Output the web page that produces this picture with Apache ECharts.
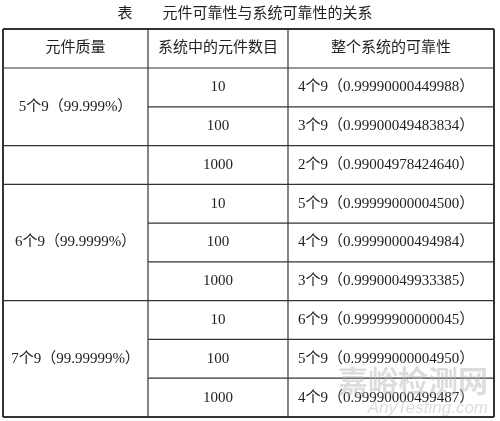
<!DOCTYPE html>
<html>
<head>
<meta charset="utf-8">
<script src="https://cdn.jsdelivr.net/npm/echarts@6/dist/echarts.min.js"></script>
</head>
<body style="margin:0">
<div id="main" style="width:500px;height:421px;"></div>
<script>
var title = '表　　元件可靠性与系统可靠性的关系';
var headers = ['元件质量', '系统中的元件数目', '整个系统的可靠性'];
// 第一列：文字与跨行数
var qualities = ['5个9（99.999%）', '', '6个9（99.9999%）', '7个9（99.99999%）'];
var qualitySpans = [2, 1, 3, 3];
var counts = ['10', '100', '1000', '10', '100', '1000', '10', '100', '1000'];
var reliab = [
    '4个9（0.99990000449988）', '3个9（0.99900049483834）', '2个9（0.99004978424640）',
    '5个9（0.99999000004500）', '4个9（0.99990000494984）', '3个9（0.99900049933385）',
    '6个9（0.99999900000045）', '5个9（0.99999000004950）', '4个9（0.99990000499487）'
];

var chart = echarts.init(document.getElementById('main'));
var L = 3, R = 494, T = 29, HB = 68, B = 417;
var colX = [L, 148, 288, R];
var rowH = (B - HB) / counts.length;
var font = '15px "Liberation Serif", "Noto Sans CJK SC", serif';
var g = [];
function line(x1, y1, x2, y2, w) {
    g.push({type: 'line', shape: {x1: x1, y1: y1, x2: x2, y2: y2}, style: {stroke: '#333', lineWidth: w}});
}
function text(s, x, y, align) {
    g.push({type: 'text', x: x, y: y, style: {text: s, font: font, fill: '#222', align: align || 'center', verticalAlign: 'middle'}});
}
g.push({type: 'text', x: 245, y: 12, style: {text: title, font: '15px "Noto Sans CJK SC", serif', fill: '#222', align: 'center', verticalAlign: 'middle'}});
// 外框
line(L, T, R, T, 2); line(L, B, R, B, 2); line(L, T, L, B, 2); line(R, T, R, B, 2);
line(L, HB, R, HB, 1.2);
line(colX[1], T, colX[1], B, 1.2); line(colX[2], T, colX[2], B, 1.2);
headers.forEach(function (h, i) { text(h, (colX[i] + colX[i + 1]) / 2, (T + HB) / 2); });
for (var r = 0; r < counts.length; r++) {
    var y0 = HB + r * rowH;
    if (r > 0) line(colX[1], y0, R, y0, 1.2);
    text(counts[r], (colX[1] + colX[2]) / 2, y0 + rowH / 2);
    text(reliab[r], colX[2] + 10, y0 + rowH / 2, 'left');
}
var start = 0;
qualities.forEach(function (q, i) {
    var y0 = HB + start * rowH, y1 = y0 + qualitySpans[i] * rowH;
    if (start > 0) line(L, y0, colX[1], y0, 1.2);
    text(q, (colX[0] + colX[1]) / 2, (y0 + y1) / 2);
    start += qualitySpans[i];
});
// 水印
g.push({type: 'text', x: 488, y: 381, style: {text: '嘉峪检测网', font: 'bold 30px "Noto Sans CJK SC"', fill: 'rgba(180,180,180,0.45)', align: 'right', verticalAlign: 'middle'}});
g.push({type: 'text', x: 488, y: 408, style: {text: 'AnyTesting.com', font: 'italic 17px "Liberation Sans"', fill: 'rgba(180,180,180,0.45)', align: 'right', verticalAlign: 'middle'}});
chart.setOption({backgroundColor: '#fff', graphic: g});
</script>
</body>
</html>
